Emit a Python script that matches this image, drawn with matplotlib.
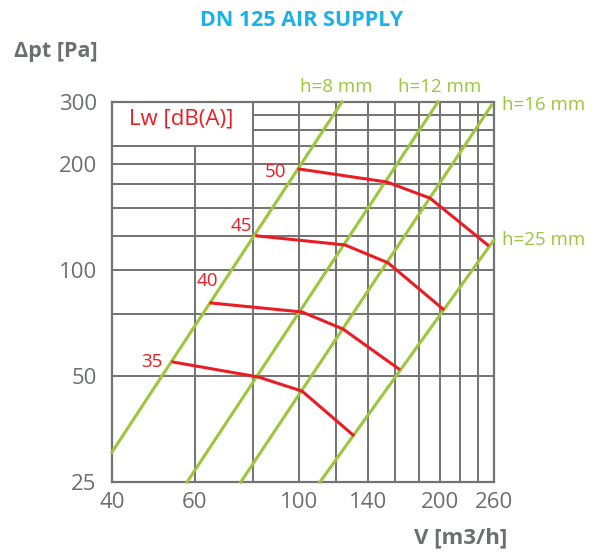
import numpy as np
import matplotlib
matplotlib.use('Agg')
import matplotlib.pyplot as plt

# Axis ranges and ticks
x_min, x_max = 40, 260
y_min, y_max = 25, 300
x_ticks = [40, 60, 100, 140, 200, 260]
y_ticks = [25, 50, 100, 200, 300]
x_grid = [60, 80, 100, 120, 140, 160, 180, 200, 220, 240]
y_grid = [50, 75, 100, 125, 150, 175, 200, 225, 250, 275]

# Damper position lines (V, dp) endpoints
h_labels = ['h=8 mm', 'h=12 mm', 'h=16 mm', 'h=25 mm']
h_v = [[40, 123.4], [57.8, 197.6], [75.2, 257], [110.8, 260]]
h_dp = [[30.4, 300], [25, 300], [25, 294], [25, 121.8]]

# Sound power level curves
lw_levels = ['50', '45', '40', '35']
lw_v = [[100.0, 153.8, 190, 252],
        [81.4, 125.3, 154.7, 202.4],
        [65, 101.5, 124, 163],
        [53.9, 81.8, 101.5, 130.3]]
lw_dp = [[193.6, 177.8, 160, 117.8],
         [125, 117.8, 104.8, 77.5],
         [80.6, 76, 68, 52.4],
         [54.8, 49.7, 45.3, 34]]
# label offset from the curve start, in pixels (right, up)
lw_offsets = [(-23, -3), (-16, 10), (-4, 22), (-21, 0)]

GRID = '#737373'
GREEN = '#9cc63b'
RED = '#ec1c24'
TEXT = '#6d6e71'
BLUE = '#1ab1ea'

plt.rcParams['font.family'] = ['Open Sans', 'DejaVu Sans']

W, H = 592, 556
fig = plt.figure(figsize=(W / 100, H / 100), dpi=100)
ax = fig.add_axes([112 / W, (H - 482) / H, 382 / W, 380 / H])
ax.set_xscale('log')
ax.set_yscale('log')
ax.set_xlim(x_min, x_max)
ax.set_ylim(y_min, y_max)

def xfrac(v):
    return np.log(v / x_min) / np.log(x_max / x_min)

def yfrac(v):
    return np.log(v / y_min) / np.log(y_max / y_min)

# grid, with the Lw box cut out of the top left corner
for v in x_grid:
    top = yfrac(225) if v < 80 else 1
    ax.axvline(v, ymin=0, ymax=top, color=GRID, lw=1.4, zorder=1)
for v in y_grid:
    left = xfrac(80) if v > 225 else 0
    ax.axhline(v, xmin=left, xmax=1, color=GRID, lw=1.4, zorder=1)

for s in ax.spines.values():
    s.set_color(GRID)
    s.set_linewidth(1.6)

ax.xaxis.set_minor_locator(matplotlib.ticker.NullLocator())
ax.yaxis.set_minor_locator(matplotlib.ticker.NullLocator())
ax.set_xticks(x_ticks)
ax.set_xticklabels([str(t) for t in x_ticks])
ax.set_yticks(y_ticks)
ax.set_yticklabels([str(t) for t in y_ticks])
ax.tick_params(length=0, labelsize=16, colors=TEXT)
ax.tick_params(axis='x', pad=7)
ax.tick_params(axis='y', pad=11)

for vs, ps in zip(h_v, h_dp):
    ax.plot(vs, ps, color=GREEN, lw=2.2, zorder=3, clip_on=False)

for lab, vs, ps, (dx, dy) in zip(lw_levels, lw_v, lw_dp, lw_offsets):
    ax.plot(vs, ps, color=RED, lw=2.2, zorder=4)
    ax.annotate(lab, (vs[0], ps[0]), xytext=(dx * 0.72, dy * 0.72), textcoords='offset points',
                ha='center', va='center', color=RED, fontsize=13.5)

# h labels
ax.text(h_v[0][1] * 0.975, 330, h_labels[0], ha='center', va='center', color=GREEN, fontsize=13.5)
ax.text(h_v[1][1] * 1.01, 330, h_labels[1], ha='center', va='center', color=GREEN, fontsize=13.5)
ax.text(270, h_dp[2][1], h_labels[2], ha='left', va='center', color=GREEN, fontsize=13.5)
ax.text(270, h_dp[3][1], h_labels[3], ha='left', va='center', color=GREEN, fontsize=13.5)

ax.text(0.045, 0.955, 'Lw [dB(A)]', transform=ax.transAxes, ha='left', va='center',
        color=RED, fontsize=16)

fig.text(302 / W, 1 - 21 / H, 'DN 125 AIR SUPPLY', ha='center', va='center',
         color=BLUE, fontsize=15.5, fontweight='bold')
fig.text(56 / W, 1 - 52 / H, 'Δpt [Pa]', ha='center', va='center',
         color=TEXT, fontsize=15.5, fontweight='bold')
fig.text(461 / W, 1 - 538 / H, 'V [m3/h]', ha='center', va='center',
         color=TEXT, fontsize=16, fontweight='bold')

fig.savefig('out.png', dpi=100)
